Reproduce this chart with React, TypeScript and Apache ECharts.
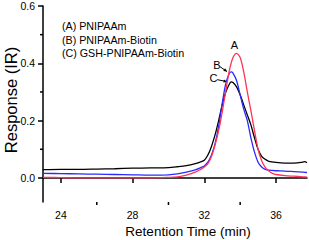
import React, { useEffect, useRef } from "react";
import * as echarts from "echarts";

// Retention time (min), response (IR)
const seriesA: [number, number][] = [
  [23.0, 0.002], [24, 0.001], [25, 0.0], [26, 0.0], [27, 0.0], [28, 0.0], [29, 0.0],
  [30, 0.002], [30.5, 0.004], [31, 0.01], [31.5, 0.02], [31.8, 0.03], [32.0, 0.038],
  [32.2, 0.05], [32.4, 0.075], [32.6, 0.115], [32.8, 0.165], [33.0, 0.23], [33.2, 0.305],
  [33.4, 0.375], [33.6, 0.42], [33.8, 0.435], [34.0, 0.42], [34.2, 0.37], [34.4, 0.3],
  [34.6, 0.235], [34.8, 0.165], [35.0, 0.1], [35.2, 0.06], [35.4, 0.037], [35.6, 0.024],
  [35.8, 0.016], [36.0, 0.012], [36.5, 0.008], [37.0, 0.006], [37.5, 0.004], [37.73, 0.003],
];
const seriesB: [number, number][] = [
  [23.0, 0.016], [24, 0.015], [25, 0.014], [26, 0.013], [27, 0.012], [28, 0.011], [29, 0.01],
  [30, 0.011], [30.5, 0.014], [31, 0.02], [31.5, 0.028], [31.8, 0.036], [32.0, 0.042],
  [32.2, 0.055], [32.4, 0.08], [32.6, 0.12], [32.8, 0.18], [33.0, 0.26], [33.2, 0.33],
  [33.4, 0.365], [33.5, 0.37], [33.6, 0.366], [33.8, 0.34], [34.0, 0.29], [34.2, 0.24],
  [34.4, 0.2], [34.6, 0.14], [34.8, 0.09], [35.0, 0.055], [35.2, 0.038], [35.4, 0.03],
  [35.6, 0.027], [36.0, 0.025], [36.5, 0.024], [37.0, 0.022], [37.5, 0.02], [37.73, 0.019],
];
const seriesC: [number, number][] = [
  [23.0, 0.029], [24, 0.03], [25, 0.03], [26, 0.031], [27, 0.032], [28, 0.034], [29, 0.035],
  [30, 0.036], [30.5, 0.039], [31, 0.043], [31.5, 0.05], [31.8, 0.056], [32.0, 0.062],
  [32.2, 0.08], [32.4, 0.11], [32.6, 0.15], [32.8, 0.2], [33.0, 0.255], [33.2, 0.3],
  [33.4, 0.328], [33.5, 0.335], [33.6, 0.333], [33.8, 0.318], [34.0, 0.29], [34.2, 0.255],
  [34.4, 0.22], [34.6, 0.185], [34.8, 0.14], [35.0, 0.1], [35.2, 0.075], [35.4, 0.065],
  [35.6, 0.058], [36.0, 0.054], [36.5, 0.052], [37.0, 0.052], [37.4, 0.054], [37.6, 0.057],
  [37.73, 0.053],
];

const seriesNames = ["(A) PNIPAAm", "(B) PNIPAAm-Biotin", "(C) GSH-PNIPAAm-Biotin"];
const seriesColors = ["#ff3355", "#2a2aff", "#000000"];

const xMajorTicks = [24, 28, 32, 36];
const xMinorTicks = [26, 30, 34];
const yMajorTicks = [0.0, 0.2, 0.4, 0.6];
const yMinorTicks = [0.1, 0.3, 0.5];

const X_MIN = 23.0;
const X_MAX = 37.73;
const Y_MIN = -0.084;
const Y_MAX = 0.6;

// Peak annotations: label text, label position, arrow start, arrow end (data coords)
const peakLabels = ["A", "B", "C"];
const peakLabelPos: [number, number][] = [[33.68, 0.463], [32.7, 0.395], [32.51, 0.347]];
const arrowFrom: ([number, number] | null)[] = [null, [32.88, 0.388], [32.72, 0.343]];
const arrowTo: ([number, number] | null)[] = [null, [33.27, 0.371], [33.27, 0.336]];

const FONT = "'Liberation Sans', Arial, sans-serif";

export default function App() {
  const ref = useRef<HTMLDivElement>(null);

  useEffect(() => {
    document.body.style.margin = "0";
    if (!ref.current) return;
    const chart = echarts.init(ref.current, null, { renderer: "svg" });
    const grid = { left: 43, top: 6, right: 2, bottom: 38 };
    const allSeries = [seriesA, seriesB, seriesC];

    chart.setOption({
      animation: false,
      backgroundColor: "#ffffff",
      textStyle: { fontFamily: FONT },
      grid,
      xAxis: {
        type: "value",
        position: "bottom",
        min: X_MIN,
        max: X_MAX,
        axisLine: { show: true, lineStyle: { color: "#000", width: 1.5 } },
        axisTick: { show: true, customValues: xMajorTicks, length: 5, lineStyle: { color: "#000", width: 1.5 } },
        axisLabel: { show: true, customValues: xMajorTicks, color: "#000", fontSize: 10.5, margin: 7, fontFamily: FONT },
        splitLine: { show: false },
      },
      yAxis: {
        type: "value",
        position: "left",
        min: Y_MIN,
        max: Y_MAX,
        axisLine: { show: true, lineStyle: { color: "#000", width: 1.5 } },
        axisTick: { show: true, customValues: yMajorTicks, length: 5, lineStyle: { color: "#000", width: 1.5 } },
        axisLabel: {
          show: true,
          customValues: yMajorTicks,
          color: "#000",
          fontSize: 10.5,
          margin: 8,
          fontFamily: FONT,
          formatter: (v: number) => v.toFixed(1),
        },
        splitLine: { show: false },
      },
      series: allSeries.map((d, i) => ({
        type: "line",
        name: seriesNames[i],
        data: d,
        showSymbol: false,
        smooth: 0.3,
        lineStyle: { color: seriesColors[i], width: 1.3 },
        z: 3 - i,
      })),
    });

    const toPx = (p: [number, number]) =>
      chart.convertToPixel({ xAxisIndex: 0, yAxisIndex: 0 }, p) as number[];

    const graphics: any[] = [];
    // minor ticks (outward)
    const o = toPx([X_MIN, Y_MIN]);
    xMinorTicks.forEach((v) => {
      const p = toPx([v, Y_MIN]);
      graphics.push({
        type: "line",
        shape: { x1: p[0], y1: o[1], x2: p[0], y2: o[1] + 3 },
        style: { stroke: "#000", lineWidth: 1.5 },
      });
    });
    yMinorTicks.forEach((v) => {
      const p = toPx([X_MIN, v]);
      graphics.push({
        type: "line",
        shape: { x1: o[0], y1: p[1], x2: o[0] - 3, y2: p[1] },
        style: { stroke: "#000", lineWidth: 1.5 },
      });
    });

    // legend-like text block
    seriesNames.forEach((n, i) => {
      graphics.push({
        type: "text",
        x: 62,
        y: 26 + i * 13.5,
        style: { text: n, fill: "#000", font: `10.7px ${FONT}`, textVerticalAlign: "middle", textAlign: "left" },
      });
    });
    // axis titles
    graphics.push({
      type: "text",
      x: 188,
      y: 231,
      style: { text: "Retention Time (min)", fill: "#000", font: `13.5px ${FONT}`, textAlign: "center", textVerticalAlign: "middle" },
    });
    graphics.push({
      type: "text",
      x: 10.5,
      y: 100,
      rotation: Math.PI / 2,
      style: { text: "Response (IR)", fill: "#000", font: `16.5px ${FONT}`, textAlign: "center", textVerticalAlign: "middle" },
    });
    // peak annotations
    peakLabels.forEach((lbl, i) => {
      const p = toPx(peakLabelPos[i]);
      graphics.push({
        type: "text",
        x: p[0],
        y: p[1],
        style: { text: lbl, fill: "#000", font: `11px ${FONT}`, textAlign: "center", textVerticalAlign: "middle" },
      });
      const f = arrowFrom[i];
      const t = arrowTo[i];
      if (f && t) {
        const a = toPx(f);
        const b = toPx(t);
        graphics.push({
          type: "line",
          shape: { x1: a[0], y1: a[1], x2: b[0], y2: b[1] },
          style: { stroke: "#000", lineWidth: 1 },
        });
        const ang = Math.atan2(b[1] - a[1], b[0] - a[0]);
        const L = 3.5;
        const w = 1.6;
        graphics.push({
          type: "polygon",
          shape: {
            points: [
              [b[0], b[1]],
              [b[0] - L * Math.cos(ang) + w * Math.sin(ang), b[1] - L * Math.sin(ang) - w * Math.cos(ang)],
              [b[0] - L * Math.cos(ang) - w * Math.sin(ang), b[1] - L * Math.sin(ang) + w * Math.cos(ang)],
            ],
          },
          style: { fill: "#000" },
        });
      }
    });
    chart.setOption({ graphic: graphics });

    return () => chart.dispose();
  }, []);

  return <div ref={ref} style={{ width: 309, height: 240 }} />;
}
